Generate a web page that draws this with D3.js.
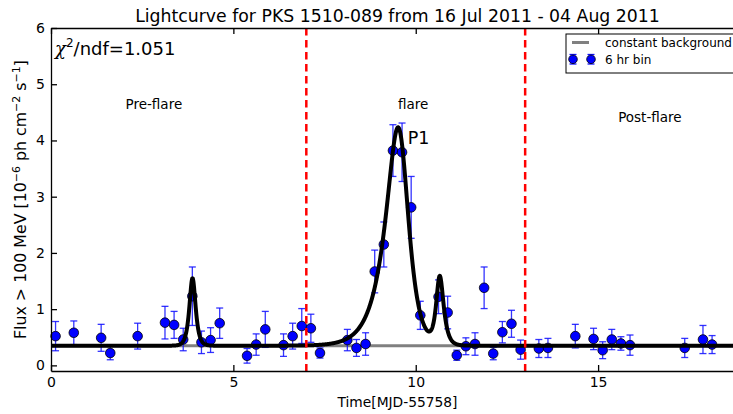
<!DOCTYPE html>
<html>
<head>
<meta charset="utf-8">
<script src="https://cdn.jsdelivr.net/npm/d3@7"></script>
<style>
    body { margin: 0; background: #fff; }
    svg { display: block; font-family: "DejaVu Sans", sans-serif; }
</style>
</head>
<body>
<div id="chart"></div>
<script>
'use strict';

// 6 hr bins, time in MJD-55758, flux in 1e-6 ph cm^-2 s^-1
const binTimes = [0.125, 0.625, 1.375, 1.625, 2.375, 3.125, 3.375, 3.625, 3.875, 4.125,
    4.375, 4.625, 5.375, 5.625, 5.875, 6.375, 6.625, 6.875, 7.125, 7.375,
    8.125, 8.375, 8.625, 8.875, 9.125, 9.375, 9.625, 9.875, 10.125, 10.625,
    10.875, 11.125, 11.375, 11.625, 11.875, 12.125, 12.375, 12.625, 12.875, 13.375,
    13.625, 14.375, 14.875, 15.125, 15.375, 15.625, 15.875, 17.375, 17.875, 18.125];
const binFlux = [0.52, 0.58, 0.49, 0.22, 0.52, 0.76, 0.72, 0.46, 1.23, 0.41,
    0.45, 0.75, 0.17, 0.37, 0.64, 0.36, 0.52, 0.70, 0.66, 0.22,
    0.45, 0.31, 0.38, 1.67, 2.15, 3.82, 3.79, 2.81, 0.89, 1.22,
    0.94, 0.18, 0.34, 0.38, 1.38, 0.21, 0.59, 0.74, 0.28, 0.30,
    0.31, 0.52, 0.47, 0.27, 0.46, 0.39, 0.36, 0.31, 0.46, 0.37];
const binErr = [0.26, 0.21, 0.24, 0.12, 0.23, 0.29, 0.24, 0.20, 0.52, 0.20,
    0.22, 0.27, 0.13, 0.19, 0.32, 0.20, 0.23, 0.31, 0.25, 0.09,
    0.19, 0.15, 0.20, 0.38, 0.40, 0.46, 0.52, 0.55, 0.25, 0.30,
    0.29, 0.09, 0.15, 0.20, 0.37, 0.11, 0.19, 0.24, 0.17, 0.16,
    0.17, 0.21, 0.19, 0.15, 0.18, 0.12, 0.18, 0.17, 0.25, 0.16];

// fitted model: constant background + exponential rise/decay flares
const background = 0.35;
const flarePeaks = [3.88, 9.587, 10.65];
const flareAmps = [1.2, 3.75, 1.19];
const flareRise = [0.075, 0.36, 0.08];
const flareDecay = [0.075, 0.21, 0.1];
const chi2ndf = '1.051';

const xTicks = [0, 5, 10, 15];
const yTicks = [0, 1, 2, 3, 4, 5, 6];
const periodEdges = [7, 13];
const periodNames = ['Pre-flare', 'flare', 'Post-flare'];

const width = 733, height = 414;
const margin = {top: 28, left: 51, bottom: 43};
const plotW = 693, plotH = height - margin.top - margin.bottom;
const barColor = '#1010ff';

let svg = d3.select('#chart').append('svg')
    .attr('width', width)
    .attr('height', height);

let g = svg.append('g')
    .attr('transform', 'translate(' + margin.left + ',' + margin.top + ')');

let x = d3.scaleLinear().domain([0, 19]).range([0, plotW]);
let y = d3.scaleLinear().domain([-0.1, 6]).range([plotH, 0]);

function model(t) {
    let f = background;
    flarePeaks.forEach(function (t0, i) {
        let dt = t - t0;
        f += 2 * flareAmps[i] / (Math.exp(-dt / flareRise[i]) + Math.exp(dt / flareDecay[i]));
    });
    return f;
}

// background line
g.append('line')
    .attr('x1', x(0)).attr('x2', x(19))
    .attr('y1', y(background)).attr('y2', y(background))
    .style('stroke', '#808080')
    .style('stroke-width', 3);

// data points with error bars
let pts = g.selectAll('.bin').data(binTimes).enter()
    .append('g')
    .attr('class', 'bin');

pts.append('line')
    .attr('x1', function (d) { return x(d); })
    .attr('x2', function (d) { return x(d); })
    .attr('y1', function (d, i) { return y(binFlux[i] - binErr[i]); })
    .attr('y2', function (d, i) { return y(binFlux[i] + binErr[i]); });

[-1, 1].forEach(function (s) {
    pts.append('line')
        .attr('x1', function (d) { return x(d) - 3.5; })
        .attr('x2', function (d) { return x(d) + 3.5; })
        .attr('y1', function (d, i) { return y(binFlux[i] + s * binErr[i]); })
        .attr('y2', function (d, i) { return y(binFlux[i] + s * binErr[i]); });
});

pts.selectAll('line')
    .style('stroke', barColor)
    .style('stroke-opacity', 0.85)
    .style('stroke-width', 1.3);

pts.append('circle')
    .attr('cx', function (d) { return x(d); })
    .attr('cy', function (d, i) { return y(binFlux[i]); })
    .attr('r', 4.8)
    .style('fill', '#0000ff')
    .style('stroke', '#000')
    .style('stroke-width', 0.8);

// fit curve
let tGrid = d3.range(0, 19.001, 0.005);
g.append('path')
    .datum(tGrid)
    .attr('d', d3.line()
        .x(function (t) { return x(t); })
        .y(function (t) { return y(model(t)); }))
    .style('fill', 'none')
    .style('stroke', '#000')
    .style('stroke-width', 4)
    .style('stroke-linejoin', 'round');

// period edges
g.selectAll('.edge').data(periodEdges).enter()
    .append('line')
    .attr('x1', function (d) { return x(d); })
    .attr('x2', function (d) { return x(d); })
    .attr('y1', 0).attr('y2', plotH)
    .style('stroke', '#ff0000')
    .style('stroke-width', 2.5)
    .style('stroke-dasharray', '7.5,4.5');

// axes, ticks pointing inwards
g.append('g')
    .attr('class', 'axis')
    .attr('transform', 'translate(0,' + plotH + ')')
    .call(d3.axisBottom(x).tickValues(xTicks).tickSize(-6).tickSizeOuter(0).tickPadding(6));

g.append('g')
    .attr('class', 'axis')
    .call(d3.axisTop(x).tickValues(xTicks).tickSize(-6).tickSizeOuter(0).tickFormat(''));

g.append('g')
    .attr('class', 'axis')
    .call(d3.axisLeft(y).tickValues(yTicks).tickSize(-6).tickSizeOuter(0).tickPadding(6)
        .tickFormat(d3.format('d')));

g.selectAll('.axis path, .axis line')
    .style('stroke', '#000')
    .style('stroke-width', 1.3);
g.selectAll('.axis text')
    .style('font-family', '"DejaVu Sans", sans-serif')
    .style('font-size', '14px')
    .style('fill', '#000');

// labels
svg.append('text')
    .attr('x', margin.left + plotW / 2)
    .attr('y', 22)
    .attr('text-anchor', 'middle')
    .style('font-size', '17.3px')
    .text('Lightcurve for PKS 1510-089 from 16 Jul 2011 - 04 Aug 2011');

svg.append('text')
    .attr('x', margin.left + plotW / 2)
    .attr('y', 407)
    .attr('text-anchor', 'middle')
    .style('font-size', '13.8px')
    .text('Time[MJD-55758]');

let yl = svg.append('text')
    .attr('transform', 'translate(26,' + (margin.top + y(2.95)) + ') rotate(-90)')
    .attr('text-anchor', 'middle')
    .style('font-size', '15.8px');
yl.append('tspan').text('Flux > 100 MeV [10');
yl.append('tspan').attr('dy', -6.5).style('font-size', '11px').text('\u22126');
yl.append('tspan').attr('dy', 6.5).text(' ph cm');
yl.append('tspan').attr('dy', -6.5).style('font-size', '11px').text('\u22122');
yl.append('tspan').attr('dy', 6.5).text(' s');
yl.append('tspan').attr('dy', -6.5).style('font-size', '11px').text('\u22121');
yl.append('tspan').attr('dy', 6.5).text(']');

let chi = g.append('text')
    .attr('x', 4)
    .attr('y', 27)
    .style('font-size', '18px');
chi.append('tspan').style('font-style', 'italic').style('font-family', '"DejaVu Serif", serif').text('\u03c7');
chi.append('tspan').attr('dy', -8).style('font-size', '12px').text('2');
chi.append('tspan').attr('dy', 8).text('/ndf=' + chi2ndf);

// period names
let nameX = [2.82, 9.93, 16.42];
let nameY = [4.56, 4.56, 4.33];
g.selectAll('.period').data(periodNames).enter()
    .append('text')
    .attr('x', function (d, i) { return x(nameX[i]); })
    .attr('y', function (d, i) { return y(nameY[i]); })
    .attr('text-anchor', 'middle')
    .style('font-size', '13.5px')
    .text(function (d) { return d; });

g.append('text')
    .attr('x', x(9.78))
    .attr('y', y(3.93))
    .style('font-size', '17.5px')
    .text('P1');

// legend
let lg = svg.append('g').attr('transform', 'translate(566,34)');
lg.append('rect')
    .attr('width', 200).attr('height', 39)
    .style('fill', '#fff')
    .style('stroke', '#000')
    .style('stroke-width', 1);
lg.append('line')
    .attr('x1', 6).attr('x2', 23).attr('y1', 8.5).attr('y2', 8.5)
    .style('stroke', '#808080')
    .style('stroke-width', 3);
lg.append('text').attr('x', 39).attr('y', 13).style('font-size', '12px').text('constant background');
[7, 25].forEach(function (mx) {
    lg.append('line').attr('x1', mx).attr('x2', mx).attr('y1', 20.5).attr('y2', 30)
        .style('stroke', barColor).style('stroke-width', 1.3);
    [20.5, 30].forEach(function (my) {
        lg.append('line').attr('x1', mx - 3.5).attr('x2', mx + 3.5).attr('y1', my).attr('y2', my)
            .style('stroke', barColor).style('stroke-width', 1.3);
    });
    lg.append('circle').attr('cx', mx).attr('cy', 25.3).attr('r', 4.3)
        .style('fill', '#0000ff').style('stroke', '#000').style('stroke-width', 0.8);
});
lg.append('text').attr('x', 39).attr('y', 30).style('font-size', '12px').text('6 hr bin');
</script>
</body>
</html>
